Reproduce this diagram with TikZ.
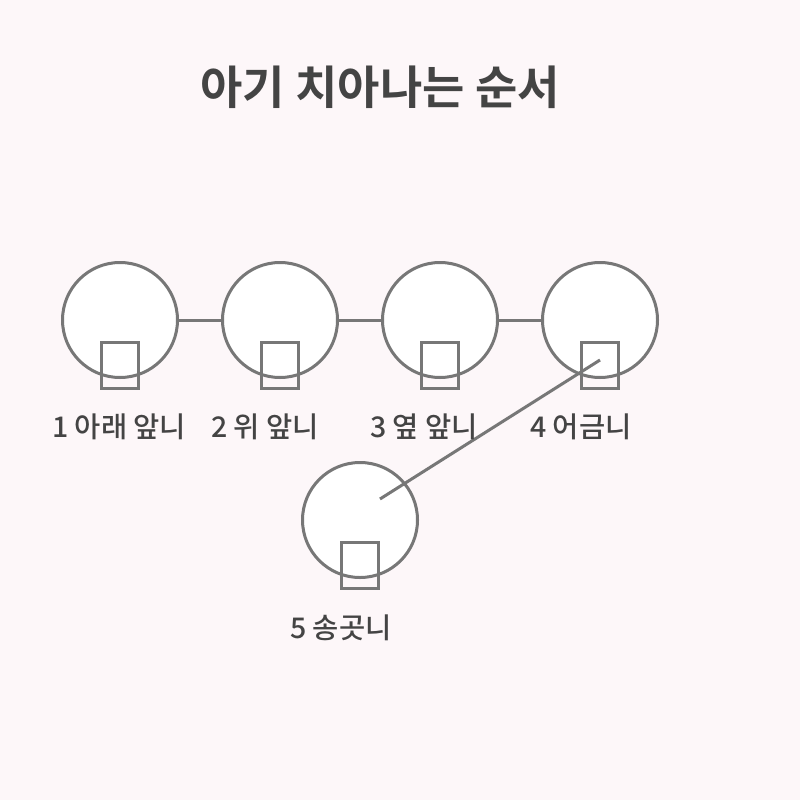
\documentclass[tikz,border=0pt]{standalone}
\usepackage{fontspec}
\newfontfamily\kr{Noto Sans CJK KR}[BoldFont=Noto Sans CJK KR Bold]
\newfontfamily\krmed{Noto Sans CJK KR Medium}
\definecolor{bg}{HTML}{FDF7F9}
\definecolor{stroke}{HTML}{777777}
\definecolor{txt}{HTML}{444444}
\begin{document}
\begin{tikzpicture}[x=1pt,y=-1pt,
  tooth/.style={circle,draw=stroke,fill=white,line width=3pt,minimum size=115pt,inner sep=0pt},
  crown/.style={rectangle,draw=stroke,line width=3pt,minimum width=37pt,minimum height=46pt,inner sep=0pt},
  link/.style={draw=stroke,line width=3pt},
  lbl/.style={anchor=west,text=txt,font=\krmed\fontsize{28.5}{32}\selectfont,inner sep=0pt},
  ttl/.style={text=txt,font=\kr\bfseries\fontsize{46}{52}\selectfont,inner sep=0pt}]
\fill[bg] (0,0) rectangle (800,800);
\useasboundingbox (0,0) rectangle (800,800);
\node[ttl] (title) at (380,87) {아기 치아나는 순서};
\node[tooth] (t1) at (120,320) {};
\node[tooth] (t2) at (280,320) {};
\node[tooth] (t3) at (440,320) {};
\node[tooth] (t4) at (600,320) {};
\node[tooth] (t5) at (360,520) {};
\path[link] (t1) -- (t2);
\path[link] (t2) -- (t3);
\path[link] (t3) -- (t4);
\node[crown] (r1) at (120,365.5) {};
\node[crown] (r2) at (280,365.5) {};
\node[crown] (r3) at (440,365.5) {};
\node[crown] (r4) at (600,365.5) {};
\node[crown] (r5) at (360,565.5) {};
\coordinate (p4) at (600,360);
\coordinate (p5) at (380,499);
\path[link] (p4) -- (p5);
\node[lbl] (l1) at (52,427) {1 아래 앞니};
\node[lbl] (l2) at (211,427) {2 위 앞니};
\node[lbl] (l3) at (370,427) {3 옆 앞니};
\node[lbl] (l4) at (530,427) {4 어금니};
\node[lbl] (l5) at (290,628) {5 송곳니};
\end{tikzpicture}
\end{document}
